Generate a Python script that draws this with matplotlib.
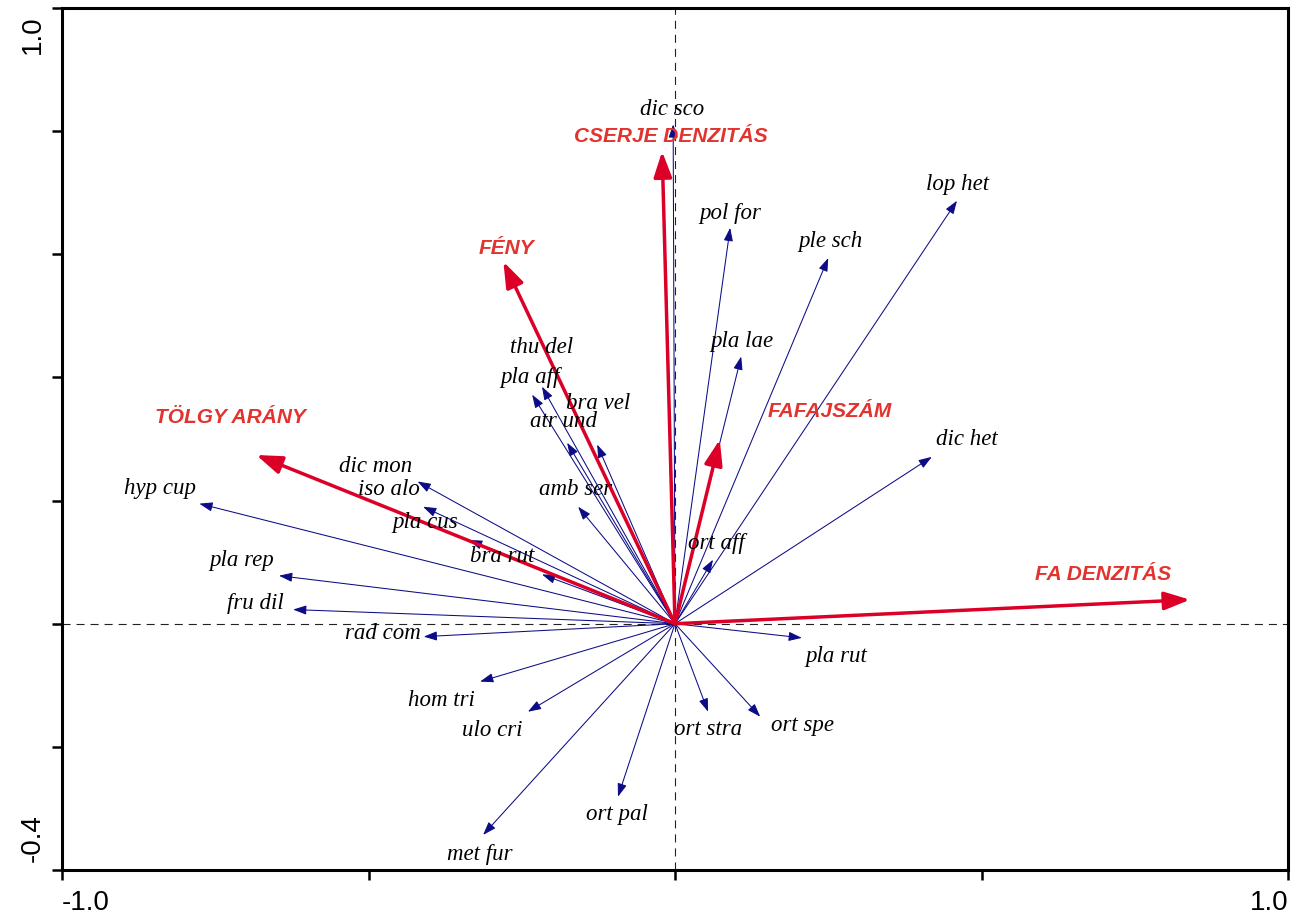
import matplotlib
matplotlib.use("Agg")
import matplotlib.pyplot as plt
from matplotlib.patches import FancyArrowPatch

# Species scores (arrow tips)
species = ["dic sco", "lop het", "pol for", "ple sch", "pla lae", "dic het", "ort aff",
           "pla rut", "ort spe", "ort stra", "ort pal", "met fur", "ulo cri", "hom tri",
           "rad com", "fru dil", "pla rep", "hyp cup", "dic mon", "iso alo", "pla cus",
           "bra rut", "amb ser", "atr und", "bra vel", "pla aff", "thu del"]
sp_x = [-0.003, 0.460, 0.090, 0.250, 0.108, 0.419, 0.062,
        0.207, 0.139, 0.054, -0.093, -0.313, -0.240, -0.318,
        -0.410, -0.623, -0.646, -0.776, -0.420, -0.411, -0.336,
        -0.217, -0.158, -0.176, -0.127, -0.233, -0.217]
sp_y = [0.811, 0.687, 0.643, 0.594, 0.434, 0.271, 0.104,
        -0.023, -0.151, -0.143, -0.281, -0.343, -0.143, -0.094,
        -0.021, 0.023, 0.078, 0.195, 0.231, 0.190, 0.136,
        0.080, 0.190, 0.294, 0.291, 0.372, 0.385]

# Environmental variables
env = ["CSERJE DENZITÁS", "FÉNY", "TÖLGY ARÁNY", "FAFAJSZÁM", "FA DENZITÁS"]
env_x = [-0.021, -0.280, -0.683, 0.073, 0.840]
env_y = [0.767, 0.588, 0.274, 0.299, 0.039]

# Label placement relative to arrow tips (pixels)
sp_off = [(-1, 15), (1, 16), (0, 14), (2, 16), (1, 15), (35, 17), (3, 16),
          (34, -19), (42, -9), (0, -18), (-1, -18), (-3, -20), (-36, -19), (-39, -19),
          (-41, 3), (-38, 6), (-37, 15), (-39, 15), (-42, 15), (-34, 17), (-44, 17),
          (-40, 18), (-3, 17), (-4, 21), (1, 41), (-2, 17), (0, 39)]
env_off = [(9, 15), (3, 13), (-26, 38), (110, 28), (-87, 25)]

plt.rcParams["lines.scale_dashes"] = False

W, H = 1304, 916
fig = plt.figure(figsize=(W / 100, H / 100), dpi=100)
ax = fig.add_axes([62 / W, 1 - 870 / H, (1288 - 62) / W, (870 - 8) / H])
ax.set_xlim(-1.0, 1.0)
ax.set_ylim(-0.4, 1.0)

dash = (0, (5.8, 4.3))
ax.axhline(0, color="#222222", lw=0.8, ls=dash, zorder=1)
ax.axvline(0, color="#222222", lw=0.8, ls=dash, zorder=1)

sp_color = "#0c0c86"
for x, y in zip(sp_x, sp_y):
    ax.add_patch(FancyArrowPatch((0, 0), (x, y),
                                 arrowstyle="-|>,head_length=0.8,head_width=0.28",
                                 mutation_scale=10, color=sp_color, lw=0.75,
                                 shrinkA=0, shrinkB=0, zorder=2))

env_color = "#dc0028"
for x, y in zip(env_x, env_y):
    ax.add_patch(FancyArrowPatch((0, 0), (x, y),
                                 arrowstyle="-|>,head_length=1.55,head_width=0.55",
                                 mutation_scale=10, color=env_color, lw=2.5,
                                 shrinkA=0, shrinkB=0, zorder=3))

for name, x, y, (dx, dy) in zip(species, sp_x, sp_y, sp_off):
    ax.annotate(name, xy=(x, y), xytext=(dx, dy), textcoords="offset pixels",
                ha="center", va="center", family="Liberation Serif",
                style="italic", fontsize=16.5, color="black", zorder=4)

for name, x, y, (dx, dy) in zip(env, env_x, env_y, env_off):
    ax.annotate(name, xy=(x, y), xytext=(dx, dy), textcoords="offset pixels",
                ha="center", va="center", family="Liberation Sans",
                style="italic", weight="bold", fontsize=15, color="#e2332f", zorder=4)

# Frame and ticks
for s in ax.spines.values():
    s.set_linewidth(2.2)
ax.set_xticks([-1.0, -0.5, 0.0, 0.5, 1.0])
ax.set_yticks([-0.4, -0.2, 0.0, 0.2, 0.4, 0.6, 0.8, 1.0])
ax.set_xticklabels([])
ax.set_yticklabels([])
ax.tick_params(direction="out", length=7, width=1.8, color="black")

tick_font = dict(family="Liberation Sans", fontsize=20, color="black",
                 textcoords="offset pixels", annotation_clip=False)
ax.annotate("-1.0", xy=(-1.0, -0.4), xytext=(0, -20), ha="left", va="top", **tick_font)
ax.annotate("1.0", xy=(1.0, -0.4), xytext=(1, -20), ha="right", va="top", **tick_font)
ax.annotate("1.0", xy=(-1.0, 1.0), xytext=(-16, -7), ha="right", va="top",
            rotation=90, **tick_font)
ax.annotate("-0.4", xy=(-1.0, -0.4), xytext=(-16, 8), ha="right", va="bottom",
            rotation=90, **tick_font)

fig.savefig("out.png", dpi=100)
